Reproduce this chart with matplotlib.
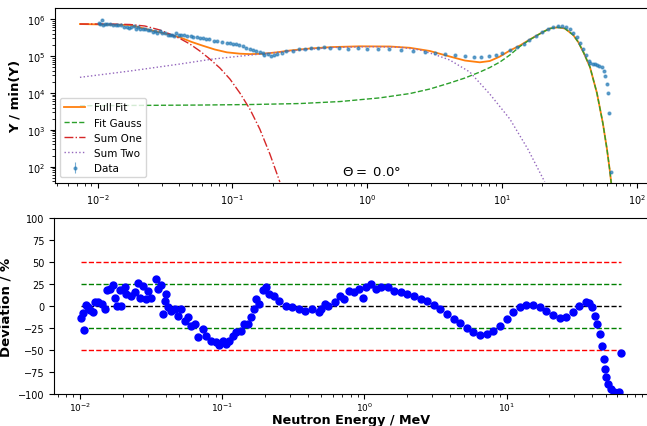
import matplotlib
matplotlib.use("Agg")
import matplotlib.pyplot as plt
import numpy as np

# ── Fit curves (energy in MeV, yield normalised to min) ──
full_fit_e = [0.0074, 0.01738, 0.0257, 0.0316, 0.0408, 0.0501, 0.0604, 0.0743, 0.0912, 0.1138,
              0.1349, 0.166, 0.214, 0.267, 0.377, 0.557, 0.885, 1.476, 2.080, 2.924,
              4.111, 5.321, 6.871, 8.147, 9.683, 11.48, 13.61, 16.14, 20.18, 22.75,
              26.06, 29.4, 33.9, 36.9, 40.6, 45.1, 50.8, 56.2, 60.3, 63.4, 65.0]
full_fit_y = [7.31e5, 6.87e5, 4.82e5, 4.05e5, 3.19e5, 2.38e5, 1.89e5, 1.49e5, 1.25e5, 1.15e5,
              1.12e5, 1.14e5, 1.25e5, 1.40e5, 1.59e5, 1.74e5, 1.82e5, 1.80e5, 1.66e5, 1.36e5,
              9.64e4, 7.50e4, 6.71e4, 7.28e4, 9.64e4, 1.40e5, 1.91e5, 2.78e5, 4.45e5, 5.53e5,
              5.96e5, 5.53e5, 3.68e5, 2.38e5, 1.20e5, 5.00e4, 9.89e3, 1.52e3, 300, 76, 33.7]

gauss_e = [0.0074, 0.0574, 0.1349, 0.317, 0.630, 1.245, 2.080, 2.924, 4.111, 5.321,
           6.871, 8.147, 9.683, 11.48, 13.61, 16.14, 20.18, 22.75, 26.06, 29.4,
           33.9, 36.9, 40.6, 45.1, 50.8, 56.2, 60.3, 63.4, 65.0]
gauss_y = [4.47e3, 4.67e3, 4.82e3, 5.13e3, 5.81e3, 7.31e3, 9.57e3, 1.27e4, 1.85e4, 2.52e4,
           3.66e4, 4.85e4, 6.84e4, 1.06e5, 1.80e5, 2.75e5, 4.45e5, 5.53e5, 5.96e5, 5.53e5,
           3.68e5, 2.38e5, 1.20e5, 5.00e4, 9.89e3, 1.52e3, 300, 76, 33.7]

sum_one_e = [0.0074, 0.01233, 0.01738, 0.02244, 0.02897, 0.03443, 0.04083, 0.04842, 0.05741,
             0.06808, 0.08091, 0.09594, 0.1138, 0.1349, 0.1600, 0.1901, 0.2254]
sum_one_y = [7.31e5, 7.31e5, 7.10e5, 6.46e5, 5.04e5, 3.92e5, 2.96e5, 2.10e5, 1.36e5,
             8.24e4, 4.70e4, 2.37e4, 9.89e3, 3.64e3, 1.04e3, 219, 38.3]

sum_two_e = [0.0074, 0.01738, 0.0408, 0.0717, 0.160, 0.317, 0.557, 1.049, 1.75, 2.47,
             3.18, 4.111, 5.79, 8.147, 11.48, 15.6, 20.8]
sum_two_y = [2.63e4, 3.90e4, 6.03e4, 8.24e4, 1.12e5, 1.45e5, 1.69e5, 1.78e5, 1.72e5, 1.45e5,
             1.09e5, 7.75e4, 3.66e4, 9.27e3, 1.95e3, 300, 39.0]

# ── Measured spectrum ──
data_e = [0.0102, 0.01045, 0.0107, 0.0110, 0.0114, 0.0118, 0.0124, 0.0130, 0.0136, 0.0142,
          0.0150, 0.0158, 0.0165, 0.0171, 0.0178, 0.0185, 0.0192, 0.0200, 0.0208, 0.0216,
          0.0226, 0.0236, 0.0246, 0.0256, 0.0266, 0.0278, 0.0290, 0.0302, 0.0318, 0.0334,
          0.0345, 0.0354, 0.0370, 0.0385, 0.0400, 0.0418, 0.0440, 0.0463, 0.0490, 0.0515,
          0.0545, 0.0575, 0.0606, 0.0640, 0.0676, 0.0731, 0.0771, 0.0836, 0.0906, 0.0958,
          0.101, 0.107, 0.113, 0.119, 0.126, 0.136, 0.143, 0.151, 0.160, 0.169,
          0.173, 0.183, 0.193, 0.204, 0.215, 0.233, 0.252, 0.281, 0.312, 0.347,
          0.386, 0.429, 0.477, 0.531, 0.62, 0.72, 0.85, 1.0, 1.2, 1.45,
          1.8, 2.2, 2.7, 3.2, 3.8, 4.5, 5.3, 6.2, 7.0, 8.0,
          9.0, 10.0, 11.5, 13.0, 14.5, 16.0, 18.0, 20.0, 22.0, 24.0,
          26.0, 28.0, 30.0, 32.0, 34.0, 36.0, 38.0, 40.0, 42.0, 44.0,
          45.5, 47.2, 49.0, 51.0, 53.0, 55.0, 57.0, 58.5, 60.0, 61.6,
          62.6, 64.4]
data_y = [7.6e5, 7.2e5, 9.6e5, 7.0e5, 7.3e5, 7.4e5, 7.3e5, 6.9e5, 7.0e5, 6.8e5,
          7.0e5, 6.2e5, 6.0e5, 5.7e5, 6.0e5, 6.4e5, 5.5e5, 6.1e5, 5.2e5, 5.4e5,
          5.3e5, 5.0e5, 4.9e5, 4.4e5, 4.7e5, 4.3e5, 4.6e5, 4.2e5, 4.3e5, 3.7e5,
          3.6e5, 3.7e5, 3.5e5, 4.1e5, 3.7e5, 3.8e5, 3.7e5, 3.5e5, 3.5e5, 3.3e5,
          3.3e5, 3.0e5, 3.0e5, 2.8e5, 2.9e5, 2.5e5, 2.5e5, 2.4e5, 2.3e5, 2.3e5,
          2.1e5, 2.1e5, 2.0e5, 1.80e5, 1.65e5, 1.58e5, 1.45e5, 1.40e5, 1.30e5, 1.18e5,
          1.05e5, 1.12e5, 1.02e5, 1.03e5, 1.12e5, 1.20e5, 1.32e5, 1.40e5, 1.50e5, 1.58e5,
          1.65e5, 1.66e5, 1.72e5, 1.65e5, 1.62e5, 1.58e5, 1.60e5, 1.58e5, 1.55e5, 1.55e5,
          1.48e5, 1.38e5, 1.27e5, 1.20e5, 1.10e5, 1.04e5, 9.8e4, 9.5e4, 9.6e4, 1.00e5,
          1.08e5, 1.18e5, 1.42e5, 1.75e5, 2.10e5, 2.65e5, 3.5e5, 4.4e5, 5.4e5, 6.0e5,
          6.5e5, 6.4e5, 5.9e5, 5.2e5, 4.2e5, 3.2e5, 2.3e5, 1.55e5, 1.05e5, 7.5e4,
          6.4e4, 6.1e4, 5.9e4, 5.6e4, 5.3e4, 4.9e4, 4.0e4, 2.9e4, 1.75e4, 9.8e3,
          2.8e3, 71]
DATA_REL_ERR = 0.03

# ── Deviation (fit vs data, %) ──
dev_e = [0.0102, 0.01045, 0.0107, 0.0110, 0.0114, 0.0118, 0.0124, 0.0127, 0.0134, 0.0142,
         0.0150, 0.0154, 0.0162, 0.0171, 0.0176, 0.0181, 0.0191, 0.0196, 0.0207, 0.0212,
         0.0230, 0.0243, 0.0256, 0.0263, 0.0278, 0.0293, 0.0301, 0.0318, 0.0341, 0.0354,
         0.0373, 0.0384, 0.0394, 0.0404, 0.0416, 0.0439, 0.0463, 0.0488, 0.0515, 0.0544,
         0.0575, 0.0606, 0.0640, 0.0676, 0.0731, 0.0771, 0.0836, 0.0906, 0.0958, 0.1011,
         0.1067, 0.1127, 0.1189, 0.1255, 0.1359, 0.1434, 0.1514, 0.1598, 0.1687, 0.1733,
         0.1830, 0.1931, 0.2038, 0.2152, 0.2330, 0.2523, 0.2806, 0.3120, 0.3470, 0.3859,
         0.4291, 0.4773, 0.499, 0.5307, 0.555, 0.618, 0.670, 0.725, 0.786, 0.851,
         0.923, 0.973, 1.03, 1.11, 1.21, 1.31, 1.46, 1.62, 1.80, 2.01,
         2.23, 2.49, 2.77, 3.08, 3.43, 3.81, 4.25, 4.72, 5.26, 5.85,
         6.51, 7.25, 8.07, 8.98, 10.0, 11.1, 12.4, 13.8, 15.3, 17.1,
         19.0, 21.2, 23.6, 26.2, 29.2, 32.5, 36.2, 38.1, 40.2, 42.0,
         43.6, 45.5, 47.2, 48.5, 49.3, 50.4, 52.0, 54.0, 57.0, 61.8,
         63.4]
dev_pct = [-13.6, -7.6, -26.5, 1.5, -1.0, -4.0, -7.0, 4.5, 4.5, 3.0,
           -3.0, 18.0, 20.0, 24.0, 10.0, 0.8, 18.0, 0.8, 21.6, 14.0,
           12.0, 16.0, 27.0, 9.0, 23.5, 8.3, 17.8, 10.0, 31.0, 20.0,
           24.2, -8.7, 6.4, 14.0, -1.0, -5.0, -3.0, -10.6, -3.0, -16.3,
           -12.5, -22.0, -20.0, -35.0, -25.8, -33.3, -39.0, -41.0, -44.0, -39.0,
           -42.8, -39.0, -33.3, -29.5, -27.7, -20.0, -20.0, -12.5, -3.0, 8.3,
           2.7, 18.0, 21.6, 14.0, 12.0, 6.4, 0.8, -1.0, -3.0, -5.0,
           -3.0, -6.8, -3.0, 2.7, 0.8, 4.5, 12.0, 8.3, 17.8, 16.0,
           19.7, 10.0, 21.6, 25.4, 19.7, 21.6, 21.6, 17.8, 16.0, 14.0,
           11.4, 8.3, 6.4, 1.5, -3.0, -8.7, -14.4, -19.0, -25.0, -29.5,
           -32.6, -31.4, -27.7, -22.0, -14.4, -6.8, -1.0, 1.5, 1.5, -1.0,
           -5.0, -9.8, -13.6, -12.5, -6.8, 0.8, 5.3, 3.8, -1.0, -10.6,
           -20.0, -31.4, -45.5, -59.8, -71.2, -80.7, -88.3, -94.0, -97.0, -97.7,
           -53.0]

band_levels = [50, 25, 0, -25, -50]
band_colors = ["r", "g", "k", "g", "r"]

# ── Canvas ──
fig = plt.figure(figsize=(6.47, 4.27), dpi=100)
ax1 = fig.add_axes([55 / 647, 1 - 183.7 / 427, (660 - 55) / 647, (183.7 - 9.3) / 427])
ax2 = fig.add_axes([54.3 / 647, 1 - 395.3 / 427, (648 - 54.3) / 647, (395.3 - 219.3) / 427])

# ── Top: spectrum and fit components ──
ax1.plot(full_fit_e, full_fit_y, color="C1", lw=1.3, label="Full Fit")
ax1.plot(gauss_e, gauss_y, color="C2", lw=1.0, ls="--", label="Fit Gauss")
ax1.plot(sum_one_e, sum_one_y, color="C3", lw=1.0, ls="-.", label="Sum One")
ax1.plot(sum_two_e, sum_two_y, color="C4", lw=1.0, ls=":", label="Sum Two")
ax1.errorbar(data_e, data_y, yerr=np.array(data_y) * DATA_REL_ERR, fmt=".", color="C0",
             ms=4, alpha=0.6, elinewidth=0.8, label="Data")
ax1.set_xscale("log")
ax1.set_yscale("log")
ax1.set_xlim(10 ** -2.316, 10 ** 2.174)
ax1.set_ylim(36.8, 1.95e6)
ax1.set_ylabel("Y / min(Y)", fontsize=9.5, fontweight="bold")
ax1.yaxis.set_label_coords(-0.055, 0.5)
ax1.tick_params(labelsize=7)
ax1.legend(loc="lower left", fontsize=7.5)
ax1.text(0.65, 76, r"$\Theta = $ 0.0°", fontsize=9.5, ha="left", va="center")

# ── Bottom: deviation ──
for lvl, col in zip(band_levels, band_colors):
    ax2.hlines(lvl, dev_e[0], dev_e[-1], colors=col, linestyles="--", lw=1.0)
ax2.plot(dev_e, dev_pct, "o", color="b", ms=5)
ax2.set_xscale("log")
ax2.set_xlim(10 ** -2.18, 10 ** 1.995)
ax2.set_ylim(-100, 100)
ax2.set_yticks([-100, -75, -50, -25, 0, 25, 50, 75, 100])
ax2.spines["right"].set_visible(False)
ax2.tick_params(labelsize=7)
ax2.tick_params(axis="x", labelsize=6.5, pad=1)
ax2.set_ylabel("Deviation / %", fontsize=9.5, fontweight="bold")
ax2.yaxis.set_label_coords(-0.07, 0.5)
ax2.set_xlabel("Neutron Energy / MeV", fontsize=9.2, fontweight="bold")
ax2.xaxis.set_label_coords(0.5, -0.108)

fig.savefig("out.png", dpi=100)
